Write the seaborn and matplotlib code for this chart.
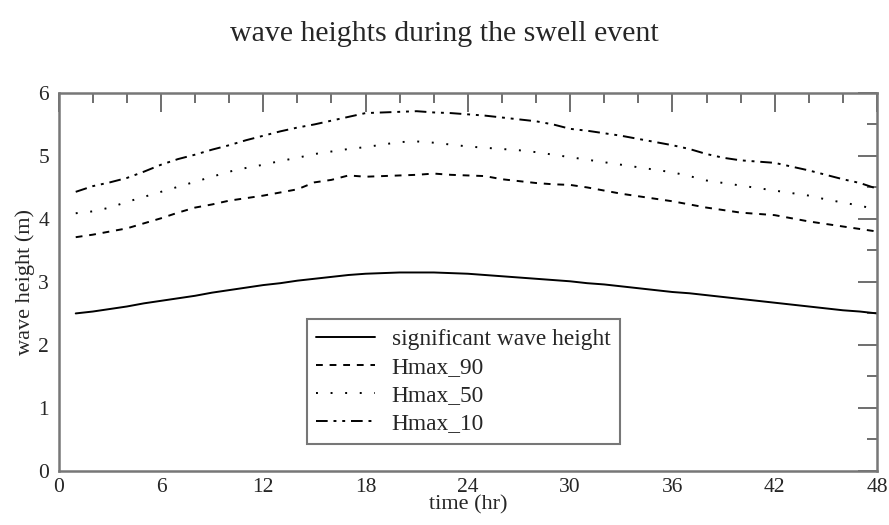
import matplotlib
matplotlib.use("Agg")
import matplotlib.pyplot as plt
import pandas as pd
import seaborn as sns
from matplotlib.ticker import MultipleLocator

# ----------------------------------------------------------------------------------------------------------------------
# Data (hourly)

time_hr = list(range(1, 49))

sig_wave = [2.50, 2.53, 2.57, 2.61, 2.66, 2.70, 2.74, 2.78, 2.83, 2.87, 2.91, 2.95, 2.98, 3.02, 3.05, 3.08,
            3.11, 3.13, 3.14, 3.15, 3.15, 3.15, 3.14, 3.13, 3.11, 3.09, 3.07, 3.05, 3.03, 3.01, 2.98, 2.96,
            2.93, 2.90, 2.87, 2.84, 2.82, 2.79, 2.76, 2.73, 2.70, 2.67, 2.64, 2.61, 2.58, 2.55, 2.53, 2.50]

hmax_90 = [3.71, 3.75, 3.80, 3.85, 3.93, 4.01, 4.10, 4.18, 4.23, 4.29, 4.33, 4.37, 4.42, 4.47, 4.58, 4.62,
           4.69, 4.67, 4.68, 4.69, 4.70, 4.72, 4.70, 4.69, 4.68, 4.63, 4.60, 4.57, 4.55, 4.54, 4.50, 4.45,
           4.40, 4.36, 4.32, 4.28, 4.23, 4.18, 4.14, 4.10, 4.08, 4.06, 4.01, 3.96, 3.92, 3.88, 3.84, 3.80]

hmax_50 = [4.09, 4.12, 4.18, 4.27, 4.35, 4.43, 4.51, 4.59, 4.67, 4.75, 4.81, 4.86, 4.92, 4.97, 5.03, 5.07,
           5.11, 5.14, 5.18, 5.22, 5.23, 5.21, 5.18, 5.15, 5.13, 5.11, 5.09, 5.06, 5.02, 4.98, 4.94, 4.90,
           4.86, 4.82, 4.78, 4.74, 4.68, 4.61, 4.57, 4.53, 4.49, 4.45, 4.41, 4.37, 4.31, 4.26, 4.21, 4.15]

hmax_10 = [4.43, 4.52, 4.58, 4.65, 4.75, 4.86, 4.95, 5.02, 5.10, 5.17, 5.25, 5.32, 5.39, 5.45, 5.50, 5.56,
           5.62, 5.68, 5.69, 5.70, 5.71, 5.69, 5.68, 5.66, 5.64, 5.61, 5.58, 5.55, 5.50, 5.43, 5.40, 5.36,
           5.32, 5.27, 5.22, 5.17, 5.11, 5.03, 4.97, 4.93, 4.91, 4.89, 4.83, 4.77, 4.70, 4.63, 4.57, 4.48]

series_names = ['significant wave height', 'Hmax_90', 'Hmax_50', 'Hmax_10']

# ----------------------------------------------------------------------------------------------------------------------
# Long-form table for seaborn

frames = []
for name, vals in zip(series_names, [sig_wave, hmax_90, hmax_50, hmax_10]):
    frames.append(pd.DataFrame({'time': time_hr, 'height': vals, 'series': name}))
df = pd.concat(frames, ignore_index=True)

# ----------------------------------------------------------------------------------------------------------------------
# Plot

sns.set_style('white')
plt.rcParams['font.family'] = ['Liberation Serif', 'DejaVu Serif']

fig, ax = plt.subplots(figsize=(8.89, 5.25), dpi=100)
fig.subplots_adjust(left=0.066, right=0.9865, top=0.823, bottom=0.103)

dashes = {
    'significant wave height': '',
    'Hmax_90': (3.5, 3.5),
    'Hmax_50': (1, 6.5),
    'Hmax_10': (6, 3, 1.5, 3, 1.5, 3),
}
sns.lineplot(data=df, x='time', y='height', hue='series', style='series',
             palette=['black'] * 4, dashes=dashes, linewidth=1.4, ax=ax)

ax.set_xlim(0, 48)
ax.set_ylim(0, 6)
ax.xaxis.set_major_locator(MultipleLocator(6))
ax.xaxis.set_minor_locator(MultipleLocator(2))
ax.yaxis.set_major_locator(MultipleLocator(1))
ax.yaxis.set_minor_locator(MultipleLocator(0.5))
ax.tick_params(which='both', direction='in', top=True, right=True, color='#555555', labelsize=15.5, width=1.2)
ax.tick_params(which='major', length=14)
ax.tick_params(which='minor', length=7)
ax.tick_params(axis='y', pad=7)
ax.tick_params(axis='x', pad=5)
for spine in ax.spines.values():
    spine.set_color('#777777')
    spine.set_linewidth(1.8)

ax.set_xlabel('time (hr)', fontsize=16, labelpad=-1)
ax.set_ylabel('wave height (m)', fontsize=16, labelpad=2)
fig.suptitle('wave heights during the swell event', fontsize=21.5, y=0.96)

leg = ax.legend(loc='lower left', bbox_to_anchor=(0.303, 0.072), fontsize=16.8, frameon=True,
                fancybox=False, edgecolor='#555555', handlelength=2.5, labelspacing=0.28,
                borderpad=0.42, handletextpad=0.72, borderaxespad=0)
leg.get_frame().set_linewidth(1.5)

fig.savefig('out.png', dpi=100)
